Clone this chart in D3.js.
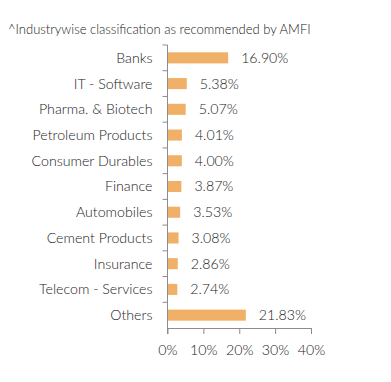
<!DOCTYPE html>
<html><head><meta charset="utf-8">
<script src="https://cdn.jsdelivr.net/npm/d3@7"></script>
<style>body{margin:0;background:#fff}svg{display:block}text{font-family:Lato,sans-serif;font-weight:300}</style>
</head><body>
<svg id="c" width="391" height="382"></svg>
<script>
const title = "^Industrywise classification as recommended by AMFI";
const categories = ["Banks","IT - Software","Pharma. & Biotech","Petroleum Products","Consumer Durables","Finance","Automobiles","Cement Products","Insurance","Telecom - Services","Others"];
const values = [16.90,5.38,5.07,4.01,4.00,3.87,3.53,3.08,2.86,2.74,21.83];
const xTicks = [0,10,20,30,40];

const svg = d3.select("#c");
const x0 = 167.5, x1 = 311, yTop = 45, yBot = 328;
const x = d3.scaleLinear().domain([0,40]).range([x0,x1]);
const y = d3.scaleBand().domain(categories).range([yTop,yBot]).paddingInner(0.57).paddingOuter(0.285);
const axisColor = "#8c8c8c", textColor = "#222";

svg.append("text").attr("x",8).attr("y",34).attr("font-size",13).attr("fill",textColor).text(title);

// bars
svg.selectAll("rect.bar").data(values).join("rect")
  .attr("x",x(0)).attr("y",(d,i)=>y(categories[i]))
  .attr("width",d=>x(d)-x(0)).attr("height",y.bandwidth())
  .attr("fill","#f0b068");

// value labels
svg.selectAll("text.val").data(values).join("text")
  .attr("x",d=>x(d)+13).attr("y",(d,i)=>y(categories[i])+y.bandwidth()/2)
  .attr("dy","0.35em").attr("font-size",14.2).attr("fill",textColor)
  .text(d=>d.toFixed(2)+"%");

// y axis
const step = y.step();
const yg = svg.append("g");
yg.append("line").attr("x1",x0).attr("x2",x0).attr("y1",yTop).attr("y2",yBot+6).attr("stroke",axisColor);
d3.range(categories.length).forEach(i=>{
  const yy = yTop + i*step;
  yg.append("line").attr("x1",x0-5).attr("x2",x0).attr("y1",yy).attr("y2",yy).attr("stroke",axisColor);
});
svg.selectAll("text.cat").data(categories).join("text")
  .attr("x",x0-15).attr("y",d=>y(d)+y.bandwidth()/2).attr("dy","0.35em")
  .attr("text-anchor","end").attr("font-size",14.2).attr("fill",textColor).text(d=>d);

// x axis
const xAxis = d3.axisBottom(x).tickValues(xTicks).tickFormat(d=>d+"%").tickSize(6).tickSizeOuter(0);
const xg = svg.append("g").attr("transform",`translate(0,${yBot})`).call(xAxis);
xg.select(".domain").attr("stroke",axisColor);
xg.selectAll(".tick line").attr("stroke",axisColor);
xg.selectAll(".tick text").attr("font-family","Lato,sans-serif").attr("font-weight",300).attr("font-size",14.2).attr("fill",textColor).attr("dy","1.3em");
</script>
</body></html>
